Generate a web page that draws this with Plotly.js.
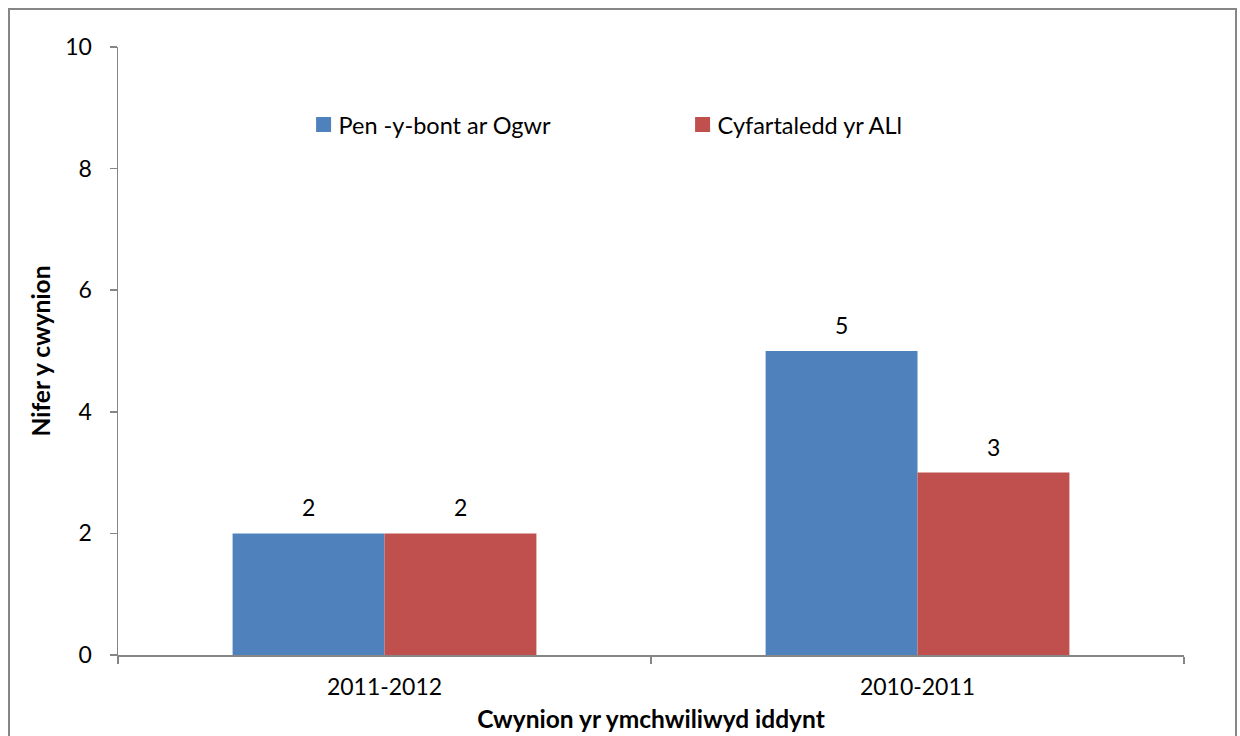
<!DOCTYPE html>
<html>
<head>
<meta charset="utf-8">
<script src="https://cdn.plot.ly/plotly-3.0.1.min.js"></script>
<style>
  html, body { margin: 0; padding: 0; background: #ffffff; }
  #wrap { position: relative; width: 1240px; height: 736px; overflow: hidden; }
  #frame { position: absolute; left: 8px; top: 8px; width: 1229px; height: 760px; border: 2px solid #868686; box-sizing: border-box; }
  #chart { position: absolute; left: 0; top: 0; width: 1240px; height: 736px; }
</style>
</head>
<body>
<div id="wrap">
  <div id="frame"></div>
  <div id="chart"></div>
</div>
<script>
const categories = ['2011-2012', '2010-2011'];
const seriesNames = ['Pen -y-bont ar Ogwr', 'Cyfartaledd yr ALl'];
const bridgendValues = [2, 5];
const averageValues = [2, 3];
const yTicks = [0, 2, 4, 6, 8, 10];

const FONT = 'Lato, "Open Sans", sans-serif';
const colors = ['#4F81BD', '#C0504D'];
const seriesValues = [bridgendValues, averageValues];

const traces = seriesValues.map((vals, i) => ({
  type: 'bar',
  name: seriesNames[i],
  x: categories,
  y: vals,
  marker: { color: colors[i], line: { width: 0 } },
  hoverinfo: 'x+y+name'
}));

const barGap = 0.43;
const groupWidth = 1 - barGap;
const barW = groupWidth / seriesValues.length;
const annotations = [];
seriesValues.forEach((vals, i) => {
  vals.forEach((v, j) => {
    annotations.push({
      x: j - groupWidth / 2 + barW * (i + 0.5),
      y: v,
      xref: 'x', yref: 'y',
      text: String(v),
      showarrow: false,
      yanchor: 'bottom',
      yshift: 10,
      font: { family: FONT, size: 23, color: '#000000' }
    });
  });
});

const layout = {
  width: 1240,
  height: 736,
  margin: { l: 118, r: 56, t: 47, b: 81 },
  paper_bgcolor: 'rgba(0,0,0,0)',
  plot_bgcolor: 'rgba(0,0,0,0)',
  barmode: 'group',
  bargap: barGap,
  bargroupgap: 0,
  showlegend: true,
  legend: {
    orientation: 'h',
    x: 0.1694, xanchor: 'left',
    y: 0.872, yanchor: 'middle',
    font: { family: FONT, size: 23.5, color: '#000000' },
    entrywidth: 334,
    bgcolor: 'rgba(0,0,0,0)',
    itemclick: false
  },
  xaxis: {
    type: 'category',
    showline: true, linecolor: '#868686', linewidth: 1.5,
    ticks: 'outside', tickson: 'boundaries', ticklen: 7, tickcolor: '#868686', tickwidth: 1.5,
    showgrid: false, zeroline: false,
    ticklabelstandoff: 11,
    tickfont: { family: FONT, size: 23, color: '#000000' },
    title: { text: '<b>Cwynion yr ymchwiliwyd iddynt</b>', font: { family: FONT, size: 24.5, color: '#000000' }, standoff: 12 }
  },
  yaxis: {
    range: [0, 10],
    tickvals: yTicks,
    ticktext: yTicks.map(String),
    showline: true, linecolor: '#868686', linewidth: 1.5,
    ticks: 'outside', ticklen: 7, tickcolor: '#868686', tickwidth: 1.5,
    showgrid: false, zeroline: false,
    ticklabelstandoff: 13,
    tickfont: { family: FONT, size: 23, color: '#000000' },
    title: { text: '<b>Nifer y cwynion</b>', font: { family: FONT, size: 24.5, color: '#000000' }, standoff: 7 }
  },
  annotations: annotations
};

Plotly.newPlot('chart', traces, layout, { displayModeBar: false, staticPlot: true }).then(gd => {
  gd.querySelectorAll('.legend .legendpoints path').forEach(p => {
    p.setAttribute('d', 'M7.5,7.5H-7.5V-7.5H7.5Z');
    p.setAttribute('transform', 'translate(25,0)');
  });
});
</script>
</body>
</html>
